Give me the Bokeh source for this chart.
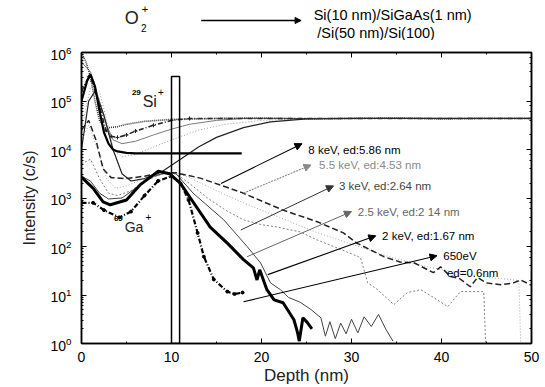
import numpy as np
from bokeh.plotting import figure
from bokeh.layouts import column
from bokeh.models import (Range1d, LinearAxis, LogAxis, FixedTicker, LogTicker,
                          Arrow, NormalHead, Label)
from bokeh.embed import file_html
from bokeh.resources import INLINE

# ---- axis ticks -------------------------------------------------------------
depth_ticks = [0, 10, 20, 30, 40, 50]
depth_minor_ticks = [5, 15, 25, 35, 45]

# ---- 29Si+ depth profiles: depth (nm), log10 intensity (c/s) -----------------
si1_depth = [0, 0.6, 1.0, 1.5, 2.0, 2.5, 3.0, 3.5, 4.0, 5.0, 6.0, 10.0, 17.8]
si1_log10 = [5.0, 5.4, 5.55, 5.3, 4.8, 4.35, 4.12, 4.0, 3.96, 3.93, 3.92, 3.92, 3.92]

si2_depth = [0, 0.5, 1.0, 1.5, 2.0, 2.5, 3.0, 4.0, 5.0, 7.0, 10.0, 15.0, 20, 25, 30, 35, 40, 45, 50]
si2_log10 = [6.0, 5.8, 5.5, 5.0, 4.6, 4.45, 4.45, 4.47, 4.52, 4.58, 4.62, 4.64, 4.65, 4.63, 4.64, 4.65, 4.63, 4.64, 4.64]

si3_depth = [0, 0.8, 1.2, 2.0, 2.7, 3.3, 4.0, 5.0, 6.0, 8.0, 10.0, 12.0, 50.0]
si3_log10 = [5.2, 5.5, 5.4, 4.9, 4.4, 4.27, 4.25, 4.3, 4.38, 4.5, 4.6, 4.64, 4.64]

si4_depth = [0, 1, 2, 2.8, 3.5, 4.5, 6, 8, 10, 12, 15, 18, 50]
si4_log10 = [5.8, 5.6, 5.0, 4.5, 4.2, 4.12, 4.17, 4.3, 4.42, 4.52, 4.6, 4.64, 4.64]

si5_depth = [0, 1, 2, 2.8, 3.5, 4.5, 6, 8, 10, 13, 16, 20, 25, 50]
si5_log10 = [4.4, 5.3, 5.2, 4.6, 4.0, 3.85, 3.9, 4.05, 4.2, 4.4, 4.52, 4.6, 4.64, 4.64]

si6_depth = [0, 0.8, 1.5, 2.5, 3.5, 4.5, 5.5, 7, 9, 11, 13, 15, 18, 21, 25, 30, 50]
si6_log10 = [4.0, 5.0, 5.2, 4.7, 4.0, 3.5, 3.35, 3.4, 3.55, 3.8, 4.05, 4.25, 4.45, 4.57, 4.63, 4.64, 4.64]

# ---- 69Ga+ depth profiles per O2+ energy ------------------------------------
ga_650ev_depth = [0, 1.3, 2.5, 4.2, 5.5, 7, 8.5, 10, 11, 11.9, 12.9, 13.6, 14.7, 16.2, 17, 17.9]
ga_650ev_log10 = [2.9, 2.9, 2.75, 2.6, 2.72, 3.05, 3.35, 3.45, 3.3, 2.96, 2.28, 1.79, 1.32, 1.07, 1.02, 1.05]

ga_2kev_depth = [0, 1.3, 2.4, 3.2, 5, 6.5, 8.5, 9.8, 11, 12.1, 14.3, 16.2, 18, 19.1, 19.5, 19.8,
                 20.6, 21.4, 22.4, 23.6, 24.0, 24.2, 24.6, 25.1, 25.6]
ga_2kev_log10 = [3.43, 3.2, 2.92, 2.86, 2.96, 3.27, 3.55, 3.5, 3.3, 3.0, 2.4, 2.07, 1.73, 1.56, 1.31, 1.52,
                 1.11, 0.9, 0.84, 0.49, 0.23, 0.05, 0.53, 0.43, 0.3]

ga_2p5kev_depth = [0, 1, 2, 3, 4.5, 6, 8, 9.5, 10.5, 12.4, 15.8, 18.4, 19.9, 21, 22.1, 23, 24.3, 25.5,
                   26.6, 27.1, 27.6, 28.2, 28.8, 29.4, 30.0, 30.7, 31.4, 32.2, 33.0, 33.8, 34.6]
ga_2p5kev_log10 = [3.45, 3.35, 3.1, 2.98, 3.0, 3.2, 3.45, 3.52, 3.5, 3.1, 2.55, 2.0, 1.66, 1.25, 1.11, 0.95,
                   0.85, 0.7, 0.53, 0.15, 0.45, 0.1, 0.42, 0.2, 0.5, 0.22, 0.55, 0.35, 0.6, 0.3, 0.05]

ga_3kev_depth = [0, 1, 2, 3, 4, 5.5, 7, 9, 10.5, 12, 14, 16, 18, 20, 21.8, 24.3, 26, 28, 30, 31, 31.8,
                 32.9, 34.7, 36.2, 37.7, 39.1, 40.7, 42.1, 44.7, 44.9]
ga_3kev_log10 = [3.7, 3.8, 3.4, 3.1, 3.05, 3.15, 3.35, 3.5, 3.5, 3.3, 3.0, 2.75, 2.55, 2.45, 2.4, 2.3,
                 2.15, 2.0, 1.85, 1.77, 1.25, 1.11, 0.8, 1.05, 1.11, 0.95, 0.76, 1.07, 1.07, 0.0]

ga_5p5kev_depth = [0, 0.8, 1.8, 2.8, 3.8, 5, 7, 9, 10.5, 12, 15, 18, 22, 26, 30, 34, 38, 42, 46, 48.6, 48.8]
ga_5p5kev_log10 = [4.2, 4.5, 4.0, 3.4, 3.2, 3.25, 3.4, 3.5, 3.52, 3.42, 3.15, 2.9, 2.6, 2.3, 2.05, 1.8,
                   1.6, 1.45, 1.35, 1.3, 0.0]

ga_8kev_depth = [0, 0.8, 1.6, 2.4, 3.3, 5, 7, 9, 10.5, 13.2, 17.7, 22.4, 26.2, 29.1, 30.6, 33.6, 35.4,
                 37, 39.1, 39.9, 41, 42, 43.2, 44, 45, 46.6, 48, 48.8, 50]
ga_8kev_log10 = [4.4, 4.6, 4.2, 3.6, 3.42, 3.4, 3.45, 3.52, 3.52, 3.41, 3.12, 2.75, 2.51, 2.28, 2.07,
                 1.79, 1.68, 1.66, 1.46, 1.58, 1.38, 1.34, 1.17, 1.36, 1.25, 1.21, 1.25, 1.31, 1.2]

# SiGaAs marker layer (depth window, top of box in c/s)
layer_box_depth = [10.0, 10.9]
layer_box_top = 3.2e5

FONT = "Liberation Sans"


def counts(log10_vals):
    return [10.0 ** v for v in log10_vals]


p = figure(width=545, height=347, x_range=Range1d(0, 50), y_range=Range1d(1, 1e6),
           y_axis_type="log", output_backend="svg", toolbar_location=None,
           min_border_left=81, min_border_right=14, min_border_top=12, min_border_bottom=43)
p.grid.visible = False
p.outline_line_color = "black"
p.outline_line_width = 1.5
p.background_fill_color = "white"
p.border_fill_color = "white"

x_ticker = FixedTicker(ticks=depth_ticks, minor_ticks=depth_minor_ticks)
p.xaxis.ticker = x_ticker


def style_axis(ax):
    ax.axis_line_color = "black"
    ax.axis_line_width = 1.5
    ax.major_tick_in = 5
    ax.major_tick_out = 0
    ax.minor_tick_in = 2
    ax.minor_tick_out = 0
    ax.major_tick_line_color = "black"
    ax.minor_tick_line_color = "black"
    ax.major_label_text_font = FONT
    ax.major_label_text_color = "black"
    ax.axis_label_text_font = FONT
    ax.axis_label_text_font_style = "normal"
    ax.axis_label_text_color = "#222222"


for ax in p.xaxis + p.yaxis:
    style_axis(ax)

p.xaxis.axis_label = "Depth (nm)"
p.xaxis.axis_label_text_font_size = "17px"
p.xaxis.major_label_text_font_size = "14px"
p.xaxis.major_label_standoff = 8
p.xaxis.axis_label_standoff = 1

p.yaxis.axis_label = "Intensity (c/s)"
p.yaxis.axis_label_text_font_size = "16px"
p.yaxis.major_label_text_font_size = "14px"
p.yaxis.major_label_standoff = 10
p.yaxis.axis_label_standoff = 9

# mirrored tick marks on the top and right edges (no labels)
top_axis = LinearAxis(ticker=x_ticker)
style_axis(top_axis)
top_axis.major_label_text_font_size = "1px"
top_axis.major_label_text_alpha = 0
top_axis.major_label_standoff = 0
p.add_layout(top_axis, "above")
right_axis = LogAxis(ticker=LogTicker())
style_axis(right_axis)
right_axis.major_label_text_font_size = "1px"
right_axis.major_label_text_alpha = 0
right_axis.major_label_standoff = 0
p.add_layout(right_axis, "right")

# ---- Si profiles ------------------------------------------------------------
p.line(si5_depth, counts(si5_log10), line_color="#9a9a9a", line_width=1, line_dash="1 2")
p.line(si4_depth, counts(si4_log10), line_color="#7a7a7a", line_width=1)
p.line(si6_depth, counts(si6_log10), line_color="#222222", line_width=1.2)
p.line(si3_depth, counts(si3_log10), line_color="#222222", line_width=1.6, line_dash="5 2 1 2")
p.scatter(si3_depth[:-1], counts(si3_log10[:-1]), marker="cross", size=4, line_color="#222222")
p.line(si2_depth, counts(si2_log10), line_color="#333333", line_width=1.6, line_dash="1 1")
p.line(si1_depth, counts(si1_log10), line_color="black", line_width=2.2)

# ---- Ga profiles ------------------------------------------------------------
p.line(ga_5p5kev_depth, counts(ga_5p5kev_log10), line_color="#a8a8a8", line_width=1, line_dash="1 2")
p.line(ga_3kev_depth, counts(ga_3kev_log10), line_color="#808080", line_width=1, line_dash="2 2")
p.line(ga_8kev_depth, counts(ga_8kev_log10), line_color="#222222", line_width=1.5, line_dash="6 3")
p.line(ga_2p5kev_depth, counts(ga_2p5kev_log10), line_color="#444444", line_width=1)
p.line(ga_650ev_depth, counts(ga_650ev_log10), line_color="black", line_width=2.2, line_dash="5 2 1 2")
p.scatter(ga_650ev_depth, counts(ga_650ev_log10), marker="circle", size=3, color="black")
p.line(ga_2kev_depth, counts(ga_2kev_log10), line_color="black", line_width=3)

# marker-layer box
p.quad(left=[layer_box_depth[0]], right=[layer_box_depth[1]], bottom=[1.0], top=[layer_box_top],
       fill_color=None, line_color="black", line_width=1.5)


def label(fig, x, y, text, size="11px", color="black", style="normal"):
    fig.add_layout(Label(x=x, y=y, text=text, text_font=FONT, text_font_size=size,
                         text_color=color, text_align="left", text_baseline="middle",
                         text_font_style=style))


def arrow(fig, x0, y0, x1, y1, color="black", width=1.1, dash="solid", head=7):
    fig.add_layout(Arrow(end=NormalHead(size=head, fill_color=color, line_color=color),
                         x_start=x0, y_start=y0, x_end=x1, y_end=y1,
                         line_color=color, line_width=width, line_dash=dash))


# energy / equilibrium-depth annotations
arrow(p, 15.5, 10 ** 3.30, 24.5, 10 ** 4.12)
label(p, 25.2, 10 ** 3.98, "8 keV, ed:5.86 nm", size="11.5px")
arrow(p, 18.0, 10 ** 3.10, 25.5, 10 ** 3.68, color="#888888", dash="2 1")
label(p, 26.4, 10 ** 3.68, "5.5 keV, ed:4.53 nm", size="11.5px", color="#8a8a8a")
arrow(p, 17.7, 10 ** 2.34, 28.0, 10 ** 3.25, color="#333333", width=1)
label(p, 28.6, 10 ** 3.25, "3 keV, ed:2.64 nm", size="11.5px", color="#444444")
arrow(p, 18.4, 10 ** 1.79, 30.0, 10 ** 2.72, color="#666666", width=1)
label(p, 30.7, 10 ** 2.72, "2.5 keV, ed:2 14 nm", size="11.5px", color="#666666")
arrow(p, 20.7, 10 ** 1.42, 32.7, 10 ** 2.22, width=1.1)
label(p, 33.4, 10 ** 2.22, "2 keV, ed:1.67 nm", size="11.5px")
arrow(p, 18.0, 10 ** 0.86, 39.5, 10 ** 1.81, width=1.1)
label(p, 40.2, 10 ** 1.81, "650eV", size="11.5px")
label(p, 40.6, 10 ** 1.45, "ed=0.6nm", size="11.5px")

# species labels
label(p, 5.6, 10 ** 5.18, "29", size="8px", style="bold")
label(p, 6.8, 10 ** 4.98, "Si", size="16px", color="#222222")
label(p, 8.5, 10 ** 5.18, "+", size="10px")
label(p, 3.6, 10 ** 2.58, "69", size="8px", style="bold")
label(p, 4.8, 10 ** 2.4, "Ga", size="14px", color="#222222")
label(p, 7.1, 10 ** 2.6, "+", size="10px")

# ---- header strip: beam and sample stack --------------------------------------
head = figure(width=545, height=40, x_range=p.x_range, y_range=Range1d(40, 0),
              output_backend="svg", toolbar_location=None,
              x_axis_location=None, y_axis_location=None,
              min_border_left=81, min_border_right=14, min_border_top=0, min_border_bottom=0)
head.grid.visible = False
head.outline_line_color = None
head.background_fill_color = "white"
head.border_fill_color = "white"

label(head, 4.8, 17, "O", size="18px", color="#222222")
label(head, 6.6, 27, "2", size="10px")
label(head, 6.7, 8, "+", size="11px")
arrow(head, 13.3, 20, 24.4, 20, width=1.3, head=6)
label(head, 25.8, 14, "Si(10 nm)/SiGaAs(1 nm)", size="14.5px")
label(head, 26.2, 32, "/Si(50 nm)/Si(100)", size="14.5px")

layout = column(head, p, spacing=0)
open("out.html", "w").write(file_html(layout, INLINE))
